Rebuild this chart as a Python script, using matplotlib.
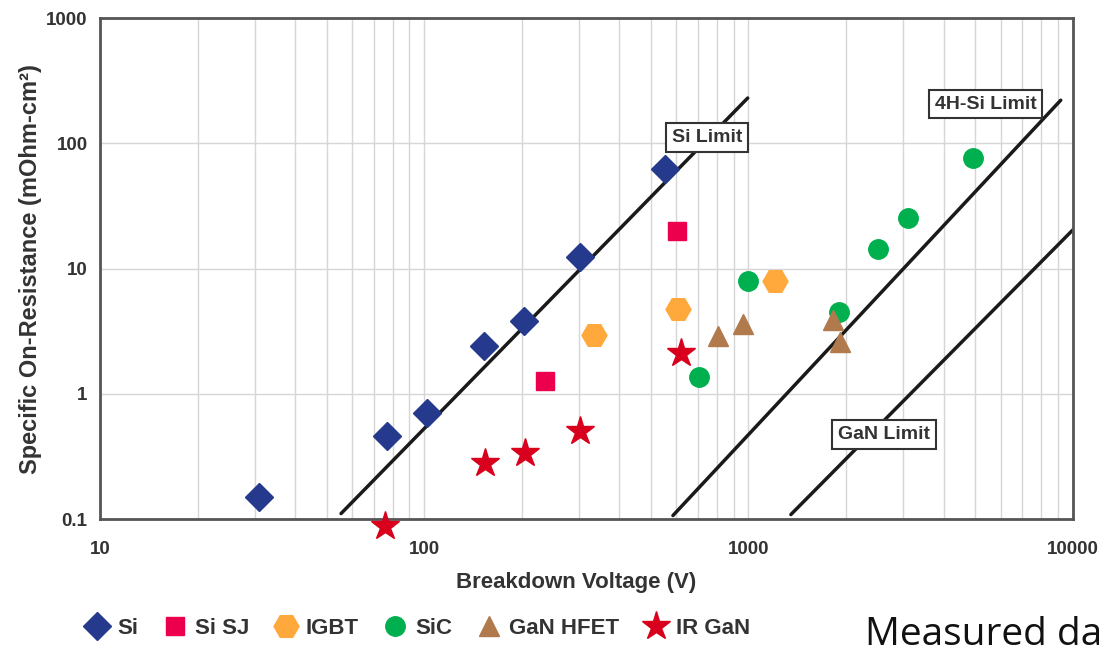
import matplotlib.pyplot as plt
from matplotlib.ticker import FixedLocator, FixedFormatter, NullFormatter, LogLocator

# ---- data ----
si_v = [31, 77, 102, 153, 203, 302, 552]
si_r = [0.15, 0.46, 0.71, 2.4, 3.8, 12.3, 62]

sisj_v = [235, 601]
sisj_r = [1.28, 19.9]

igbt_v = [334, 605, 1205]
igbt_r = [2.94, 4.8, 7.9]

sic_v = [703, 995, 1900, 2506, 3100, 4920]
sic_r = [1.36, 7.9, 4.5, 14.3, 25.3, 76]

hfet_v = [805, 961, 1820, 1914]
hfet_r = [2.9, 3.6, 3.9, 2.6]

irgan_v = [75.6, 154, 204, 302, 620]
irgan_r = [0.089, 0.279, 0.336, 0.51, 2.11]

# material limit lines (end points)
si_lim_v = [55.4, 995]
si_lim_r = [0.111, 230]
sic_lim_v = [585, 9190]
sic_lim_r = [0.107, 221]
gan_lim_v = [1352, 10000]
gan_lim_r = [0.109, 20.3]

x_ticks = [10, 100, 1000, 10000]
x_labels = ['10', '100', '1000', '10000']
y_ticks = [0.1, 1, 10, 100, 1000]
y_labels = ['0.1', '1', '10', '100', '1000']

font_c = ['Liberation Sans', 'DejaVu Sans']
plt.rcParams['font.family'] = font_c
txt_col = '#333333'

fig = plt.figure(figsize=(10.99, 6.45), dpi=100)
ax = fig.add_axes([0.091, 0.195, 0.885, 0.777])
ax.set_xscale('log')
ax.set_yscale('log')
ax.set_xlim(10, 10000)
ax.set_ylim(0.1, 1000)

# grid: vertical at every minor step, horizontal only at decades
ax.xaxis.set_major_locator(FixedLocator(x_ticks))
ax.xaxis.set_major_formatter(FixedFormatter(x_labels))
ax.xaxis.set_minor_locator(LogLocator(base=10, subs=range(2, 10)))
ax.xaxis.set_minor_formatter(NullFormatter())
ax.yaxis.set_major_locator(FixedLocator(y_ticks))
ax.yaxis.set_major_formatter(FixedFormatter(y_labels))
ax.yaxis.set_minor_formatter(NullFormatter())
ax.grid(True, which='both', axis='x', color='#d6d6d6', lw=1)
ax.grid(True, which='major', axis='y', color='#d6d6d6', lw=1)
ax.set_axisbelow(True)
ax.tick_params(which='both', length=0)
ax.tick_params(axis='x', pad=16, labelsize=13.5)
ax.tick_params(axis='y', pad=9, labelsize=13.5)
for lab in ax.get_xticklabels() + ax.get_yticklabels():
    lab.set_fontweight('bold')
    lab.set_color(txt_col)
for sp in ax.spines.values():
    sp.set_color('#555555')
    sp.set_linewidth(2)

# limit lines
lim_kw = dict(color='#1a1a1a', lw=2.5, solid_capstyle='round', zorder=2)
ax.plot(si_lim_v, si_lim_r, **lim_kw)
ax.plot(sic_lim_v, sic_lim_r, **lim_kw)
ax.plot(gan_lim_v, gan_lim_r, **lim_kw)

box = dict(boxstyle='square,pad=0.3', fc='white', ec='#333333', lw=1.5)
ax.text(745, 112, 'Si Limit', fontsize=14, fontweight='bold', color=txt_col,
        ha='center', va='center', bbox=box, zorder=4)
ax.text(5395, 206, '4H-Si Limit', fontsize=14, fontweight='bold', color=txt_col,
        ha='center', va='center', bbox=box, zorder=4)
ax.text(2620, 0.475, 'GaN Limit', fontsize=14, fontweight='bold', color=txt_col,
        ha='center', va='center', bbox=box, zorder=4)

# measured devices
mk = dict(linestyle='none', clip_on=False, zorder=3)
ax.plot(si_v, si_r, marker='D', ms=14, color='#253a8c', label='Si', **mk)
ax.plot(sisj_v, sisj_r, marker='s', ms=13, color='#ec004e', label='Si SJ', **mk)
ax.plot(igbt_v, igbt_r, marker='H', ms=18, color='#ffa83c', label='IGBT', **mk)
ax.plot(sic_v, sic_r, marker='o', ms=14, color='#00b04f', label='SiC', **mk)
ax.plot(hfet_v, hfet_r, marker='^', ms=15, color='#b07a4c', label='GaN HFET', **mk)
ax.plot(irgan_v, irgan_r, marker='*', ms=21, color='#d8001c', label='IR GaN', **mk)

ax.set_xlabel('Breakdown Voltage (V)', fontsize=16, fontweight='bold', color=txt_col, labelpad=7)
ax.xaxis.set_label_coords(0.49, -0.105)
ax.set_ylabel('Specific On-Resistance (mOhm-cm\u00b2)', fontsize=17, fontweight='bold',
              color=txt_col, labelpad=3)

leg = fig.legend(loc='center left', bbox_to_anchor=(0.068, 0.026), ncol=6, frameon=False,
                 borderaxespad=0, handlelength=1.2, handletextpad=0.3, columnspacing=1.05,
                 prop={'family': font_c, 'weight': 'bold', 'size': 16})
for t in leg.get_texts():
    t.set_color(txt_col)

# the reference cuts this caption off at the right edge
fig.text(865 / 1099, 0.0, 'Measured data', fontsize=28, family=['Open Sans', 'DejaVu Sans'],
         color='#111111', va='baseline')

fig.savefig('out.png', dpi=100)
